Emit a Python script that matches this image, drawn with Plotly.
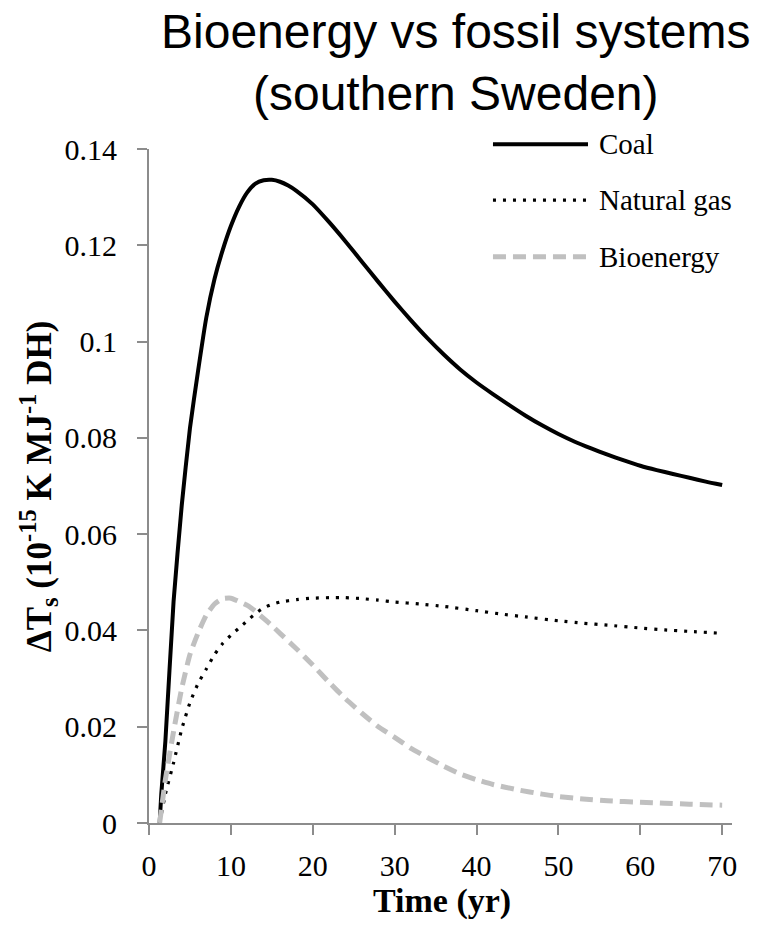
import plotly.graph_objects as go

# ---- data ----
coal_x = [1.3, 1.5, 2, 3, 4, 5, 6, 7, 8, 9, 10, 11, 12, 13, 14, 15, 16, 17, 18, 20, 22, 24, 26, 28, 30,
          32, 34, 36, 38, 40, 42, 44, 46, 48, 50, 52, 54, 56, 58, 60, 62, 64, 66, 68, 70]
coal_y = [0.0, 0.006, 0.017, 0.046, 0.066, 0.082, 0.094, 0.105, 0.113, 0.119, 0.124, 0.128, 0.131,
          0.1328, 0.1335, 0.1336, 0.1332, 0.1324, 0.1313, 0.1285, 0.1248, 0.1208, 0.1166, 0.1124, 0.1083,
          0.1044, 0.1007, 0.0973, 0.0942, 0.0915, 0.0891, 0.0868, 0.0846, 0.0826, 0.0808, 0.0792, 0.0778,
          0.0765, 0.0753, 0.0742, 0.0733, 0.0725, 0.0717, 0.0709, 0.0702]

gas_x = [1.3, 2, 3, 4, 5, 6, 7, 8, 9, 10, 11, 12, 13, 14, 15, 16, 18, 20, 22, 24, 26, 28, 30, 33, 36,
         40, 43, 46, 50, 53, 56, 60, 63, 66, 70]
gas_y = [0.0, 0.006, 0.0125, 0.0195, 0.025, 0.029, 0.032, 0.035, 0.0373, 0.039, 0.0405, 0.042, 0.0435,
         0.0447, 0.0454, 0.0459, 0.0464, 0.0467, 0.0468, 0.0468, 0.0466, 0.0463, 0.0459, 0.0455, 0.045,
         0.0441, 0.0434, 0.0428, 0.042, 0.0415, 0.0411, 0.0405, 0.0401, 0.0398, 0.0394]

bio_x = [1.3, 2, 3, 4, 5, 6, 7, 8, 9, 10, 11, 12, 13, 14, 15, 16, 18, 20, 22, 24, 26, 28, 30, 32, 34,
         36, 38, 40, 42, 45, 48, 50, 53, 56, 60, 63, 66, 70]
bio_y = [0.0, 0.009, 0.019, 0.028, 0.035, 0.0395, 0.0432, 0.0455, 0.0466, 0.0467, 0.046, 0.0452, 0.044,
         0.0425, 0.041, 0.0394, 0.0362, 0.0328, 0.0292, 0.0258, 0.0228, 0.02, 0.0178, 0.0155, 0.0136,
         0.0118, 0.0102, 0.009, 0.008, 0.0069, 0.006, 0.0055, 0.005, 0.0046, 0.0043, 0.0041, 0.0039,
         0.0037]

series_names = ["Coal", "Natural gas", "Bioenergy"]
x_ticks = [0, 10, 20, 30, 40, 50, 60, 70]
y_ticks = [0, 0.02, 0.04, 0.06, 0.08, 0.1, 0.12, 0.14]
y_ticklabels = ["0", "0.02", "0.04", "0.06", "0.08", "0.1", "0.12", "0.14"]

# ---- styles ----
AX = "#8c8c8c"
SERIF = "Liberation Serif, Times New Roman, serif"
SANS = "Liberation Sans, Arial, sans-serif"
styles = [
    dict(color="black", width=4, dash="solid"),
    dict(color="black", width=3.2, dash="3px,7px"),
    dict(color="#c0c0c0", width=5, dash="13px,7px"),
]

fig = go.Figure()
for xs, ys, name, st in zip([coal_x, gas_x, bio_x], [coal_y, gas_y, bio_y], series_names, styles):
    fig.add_trace(go.Scatter(x=xs, y=ys, mode="lines", name=name, showlegend=False,
                             line=dict(color=st["color"], width=st["width"], dash=st["dash"],
                                       shape="spline", smoothing=0.5)))

# manual legend (long line samples as in the reference)
leg_y = [1.007, 0.924, 0.840]
for name, st, ly in zip(series_names, styles, leg_y):
    fig.add_shape(type="line", xref="paper", yref="paper", x0=0.590, x1=0.753, y0=ly, y1=ly,
                  line=dict(color=st["color"], width=st["width"], dash=st["dash"]))
    fig.add_annotation(text=name, xref="paper", yref="paper", x=0.768, y=ly, xanchor="left",
                       yanchor="middle", showarrow=False, font=dict(family=SERIF, size=29, color="black"))

# chart title
fig.add_annotation(text="Bioenergy vs fossil systems<br>(southern Sweden)", xref="paper", yref="paper",
                   x=0.527, y=1.217, xanchor="center", yanchor="top", showarrow=False,
                   font=dict(family=SANS, size=48, color="black"))

# axis titles
fig.add_annotation(text="<b>ΔT<sub>s</sub> (10<sup>-15</sup> K MJ<sup>-1</sup> DH)</b>",
                   xref="paper", yref="paper", x=-0.19, y=0.5, xanchor="center", yanchor="middle",
                   textangle=-90, showarrow=False, font=dict(family=SERIF, size=35, color="black"))
fig.add_annotation(text="<b>Time (yr)</b>", xref="paper", yref="paper", x=0.503, y=-0.115,
                   xanchor="center", yanchor="middle", showarrow=False,
                   font=dict(family=SERIF, size=34, color="black"))

fig.update_layout(
    width=764, height=930,
    margin=dict(l=149, r=32, t=149, b=107),
    paper_bgcolor="white", plot_bgcolor="white",
    xaxis=dict(range=[0, 71.2], tickvals=x_ticks, ticks="outside", ticklen=10, tickwidth=2,
               tickcolor=AX, showline=True, linecolor=AX, linewidth=2, showgrid=False,
               zeroline=False, ticklabelstandoff=5,
               tickfont=dict(family=SERIF, size=30, color="black")),
    yaxis=dict(range=[0, 0.14], tickvals=y_ticks, ticktext=y_ticklabels, ticks="outside",
               ticklen=10, tickwidth=2, tickcolor=AX, showline=True, linecolor=AX, linewidth=2,
               showgrid=False, zeroline=False, ticklabelstandoff=14,
               tickfont=dict(family=SERIF, size=30, color="black")),
)

fig.write_html("out.html")
